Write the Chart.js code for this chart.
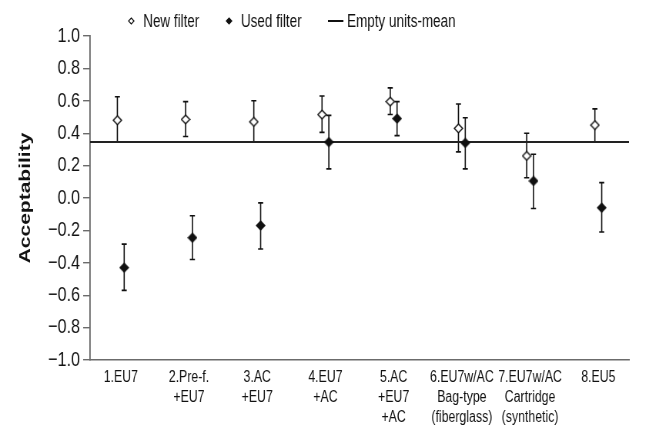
<!DOCTYPE html>
<html>
<head>
<meta charset="utf-8">
<script src="https://cdn.jsdelivr.net/npm/chart.js@4.4.0/dist/chart.umd.min.js"></script>
<style>
  html, body { margin: 0; padding: 0; background: #fff; overflow: hidden; }
  /* the reference is squeezed sideways (~0.77), so draw wide and show it narrow */
  #chart { display: block; width: 649px; height: 425px; }
</style>
</head>
<body>
<canvas id="chart" width="843" height="425" style="width:649px;height:425px"></canvas>
<script>
// --- DATA ---
const categories = [
  ['1.EU7'],
  ['2.Pre-f.', '+EU7'],
  ['3.AC', '+EU7'],
  ['4.EU7', '+AC'],
  ['5.AC', '+EU7', '+AC'],
  ['6.EU7w/AC', 'Bag-type', '(fiberglass)'],
  ['7.EU7w/AC', 'Cartridge', '(synthetic)'],
  ['8.EU5']
];

const newMean  = [0.48, 0.485, 0.47, 0.515, 0.595, 0.43, 0.26, 0.45];
const newUpper = [0.625, 0.595, 0.60, 0.63, 0.68, 0.58, 0.40, 0.55];
const newLower = [0.345, 0.38, 0.345, 0.405, 0.515, 0.285, 0.125, 0.345];

const usedMean  = [-0.43, -0.245, -0.17, 0.345, 0.49, 0.34, 0.105, -0.06];
const usedUpper = [-0.285, -0.11, -0.03, 0.51, 0.595, 0.495, 0.27, 0.095];
const usedLower = [-0.57, -0.38, -0.315, 0.18, 0.385, 0.18, -0.065, -0.21];

const emptyUnitsMean = 0.345;

const yTicks = [-1.0, -0.8, -0.6, -0.4, -0.2, 0.0, 0.2, 0.4, 0.6, 0.8, 1.0];

// --- LOOK SETTINGS ---
const X_MIN = 0.55, X_MAX = 8.45;
const PAIR_SHIFT = 0.05;   // new filter a bit left of the slot, used filter a bit right
const INK = '#111111';
const AXIS = '#6b6b6b';
const FONT = '"Liberation Sans", Arial, Helvetica, sans-serif';

Chart.defaults.font.family = FONT;
Chart.defaults.color = INK;

// diamond marker drawn into a small canvas (wider than tall, it gets squeezed on screen)
function diamond(w, h, fill, lw) {
    const c = document.createElement('canvas');
    c.width = w; c.height = h;
    const g = c.getContext('2d');
    const m = lw / 2 + 0.4;
    g.beginPath();
    g.moveTo(w / 2, m); g.lineTo(w - m, h / 2); g.lineTo(w / 2, h - m); g.lineTo(m, h / 2);
    g.closePath();
    g.fillStyle = fill; g.fill();
    g.strokeStyle = INK; g.lineWidth = lw; g.stroke();
    return c;
}
function bar(w, h) {
    const c = document.createElement('canvas');
    c.width = w; c.height = h;
    const g = c.getContext('2d');
    g.fillStyle = INK; g.fillRect(0, 0, w, h);
    return c;
}

const openMark = diamond(13, 11, '#ffffff', 1.4);
const fullMark = diamond(13, 11, INK, 1.4);
const legendMarks = [diamond(9, 8, '#ffffff', 1.2), diamond(9, 8, INK, 1.2), bar(20, 2)];
const legendBox = [20, 20, 25];

// --- ERROR BAR PLUGIN ---
const errorBars = {
    id: 'errorBars',
    beforeDatasetsDraw(chart) {
        const ctx = chart.ctx;
        const yScale = chart.scales.y;
        chart.data.datasets.forEach((ds, di) => {
            if (!ds.errHigh) return;
            const meta = chart.getDatasetMeta(di);
            ctx.save();
            ctx.strokeStyle = INK;
            ctx.lineWidth = 1.6;
            meta.data.forEach((pt, i) => {
                const top = yScale.getPixelForValue(ds.errHigh[i]);
                const bot = yScale.getPixelForValue(ds.errLow[i]);
                ctx.beginPath();
                ctx.moveTo(pt.x, top); ctx.lineTo(pt.x, bot);
                ctx.moveTo(pt.x - 3.3, top); ctx.lineTo(pt.x + 3.3, top);
                ctx.moveTo(pt.x - 3.3, bot); ctx.lineTo(pt.x + 3.3, bot);
                ctx.stroke();
            });
            ctx.restore();
        });
    }
};

// --- LEGEND ROW (one line above the plot) ---
const legendRow = {
    id: 'legendRow',
    afterDraw(chart) {
        const c = chart.ctx;
        c.save();
        c.font = '17.5px ' + FONT;
        c.fillStyle = INK;
        c.textBaseline = 'alphabetic';
        let x = chart.chartArea.left + 49;
        chart.data.datasets.forEach((ds, i) => {
            const mark = legendMarks[i];
            c.drawImage(mark, Math.round(x), Math.round(20.5 - mark.height / 2));
            x += legendBox[i];
            c.fillText(ds.label, x, 26.7);
            x += c.measureText(ds.label).width + 34;
        });
        c.restore();
    }
};

const newPoints  = newMean.map((v, i) => ({ x: i + 1 - PAIR_SHIFT, y: v }));
const usedPoints = usedMean.map((v, i) => ({ x: i + 1 + PAIR_SHIFT, y: v }));

const ctx = document.getElementById('chart').getContext('2d');
const myChart = new Chart(ctx, {
    type: 'scatter',
    data: {
        datasets: [
            {
                label: 'New filter',
                data: newPoints,
                errHigh: newUpper,
                errLow: newLower,
                pointStyle: openMark,
                pointRadius: 5
            },
            {
                label: 'Used filter',
                data: usedPoints,
                errHigh: usedUpper,
                errLow: usedLower,
                pointStyle: fullMark,
                pointRadius: 5
            },
            {
                label: 'Empty units-mean',
                type: 'line',
                data: [{ x: X_MIN, y: emptyUnitsMean }, { x: X_MAX, y: emptyUnitsMean }],
                borderColor: '#222222',
                borderWidth: 2,
                pointRadius: 0
            }
        ]
    },
    options: {
        responsive: false,
        devicePixelRatio: 1,
        animation: false,
        layout: { padding: { left: 21, right: 26, top: 36, bottom: 0 } },
        plugins: {
            legend: { display: false },
            tooltip: { enabled: false }
        },
        scales: {
            x: {
                type: 'linear',
                min: X_MIN,
                max: X_MAX,
                afterBuildTicks: (axis) => { axis.ticks = categories.map((c, i) => ({ value: i + 1 })); },
                afterFit: (axis) => { axis.height = 65; },
                grid: { display: false, drawTicks: false },
                border: { display: true, color: AXIS, width: 1.4 },
                ticks: {
                    autoSkip: false,
                    maxRotation: 0,
                    padding: 8,
                    color: INK,
                    font: { size: 16, lineHeight: 1.25 },
                    callback: (v) => categories[Math.round(v) - 1] || ''
                }
            },
            y: {
                min: -1,
                max: 1,
                afterBuildTicks: (axis) => { axis.ticks = yTicks.map(v => ({ value: v })); },
                afterFit: (axis) => { axis.width = 96; },
                grid: { display: true, drawOnChartArea: false, drawTicks: true, tickLength: 9, color: AXIS, lineWidth: 1.4 },
                border: { display: true, color: AXIS, width: 1.8 },
                title: { display: true, text: 'Acceptability', color: INK, font: { size: 21, weight: 'bold' }, padding: { top: 0, bottom: 0 } },
                ticks: {
                    padding: 4,
                    color: INK,
                    font: { size: 21 },
                    callback: (v) => (v < 0 ? '\u2212' : '') + Math.abs(v).toFixed(1)
                }
            }
        }
    },
    plugins: [errorBars, legendRow]
});
</script>
</body>
</html>
